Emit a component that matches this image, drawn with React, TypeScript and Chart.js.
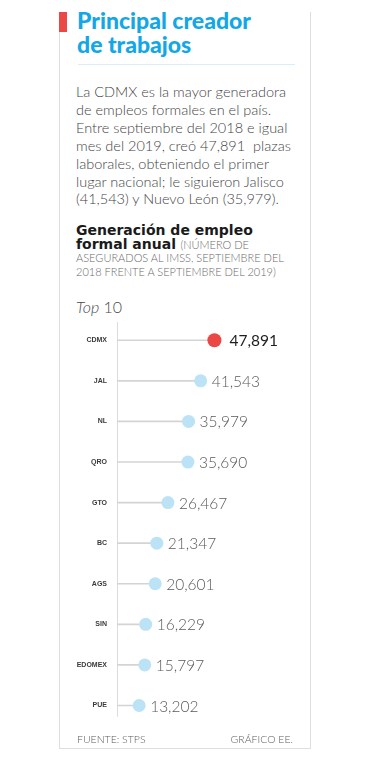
import React, { useEffect, useRef } from "react";
import { Chart, registerables } from "chart.js";

Chart.register(...registerables);

const categories = ["CDMX", "JAL", "NL", "QRO", "GTO", "BC", "AGS", "SIN", "EDOMEX", "PUE"];
const values = [47891, 41543, 35979, 35690, 26467, 21347, 20601, 16229, 15797, 13202];
const highlightCategory = "CDMX";

const RED = "#ea4745";
const BLUE = "#bce2f6";

const paragraphLines = [
  "La CDMX es la mayor generadora",
  "de empleos formales en el país.",
  "Entre septiembre del 2018 e igual",
  "mes del 2019, creó 47,891  plazas",
  "laborales, obteniendo el primer",
  "lugar nacional; le siguieron Jalisco",
  "(41,543) y Nuevo León (35,979).",
];

function LollipopChart() {
  const ref = useRef<HTMLCanvasElement | null>(null);
  useEffect(() => {
    if (!ref.current) return;
    const isHi = categories.map((c) => c === highlightCategory);
    const valueLabelPlugin = {
      id: "valueLabels",
      afterDatasetsDraw(chart: any) {
        const ctx = chart.ctx;
        const meta = chart.getDatasetMeta(0);
        ctx.save();
        ctx.textBaseline = "middle";
        ctx.textAlign = "left";
        meta.data.forEach((pt: any, i: number) => {
          const hi = isHi[i];
          ctx.font = hi ? "400 15.5px Lato" : "300 15.5px Lato";
          ctx.fillStyle = hi ? "#1e1e1e" : "#5a5a5a";
          ctx.fillText(values[i].toLocaleString("en-US"), pt.x + (hi ? 15 : 11), pt.y + 1);
        });
        ctx.restore();
      },
    };
    const axisLinePlugin = {
      id: "axisLine",
      beforeDatasetsDraw(chart: any) {
        const { ctx, chartArea } = chart;
        ctx.save();
        ctx.strokeStyle = "#dcdcdc";
        ctx.lineWidth = 1;
        ctx.beginPath();
        ctx.moveTo(Math.round(chartArea.left) + 0.5, chartArea.top + 2);
        ctx.lineTo(Math.round(chartArea.left) + 0.5, chartArea.bottom - 9);
        ctx.stroke();
        ctx.restore();
      },
    };
    const chart = new Chart(ref.current, {
      type: "bar",
      data: {
        labels: categories,
        datasets: [
          {
            type: "line",
            indexAxis: "y",
            data: values,
            showLine: false,
            pointRadius: isHi.map((h) => (h ? 7 : 6.5)),
            pointHoverRadius: isHi.map((h) => (h ? 7 : 6.5)),
            pointBackgroundColor: isHi.map((h) => (h ? RED : BLUE)),
            pointBorderWidth: 0,
            pointBorderColor: "rgba(0,0,0,0)",
            order: 0,
            clip: false,
          } as any,
          {
            type: "bar",
            indexAxis: "y",
            data: values,
            backgroundColor: "#d4d4d4",
            barThickness: 1,
            order: 1,
          } as any,
        ],
      },
      options: {
        indexAxis: "y",
        responsive: false,
        animation: false,
        events: [],
        layout: { padding: { top: 20, bottom: 8, left: 0, right: 0 } },
        plugins: { legend: { display: false }, tooltip: { enabled: false } },
        scales: {
          x: { type: "linear", min: 3000, max: 88700, display: false },
          y: {
            type: "category",
            grid: { display: false, drawTicks: false },
            border: { display: false },
            ticks: {
              padding: 10,
              color: "#3a3a3a",
              font: { family: "'Liberation Sans', Arial", size: 7, weight: "bold" },
            },
            afterFit: (s: any) => {
              s.width = 57;
            },
          },
        },
      } as any,
      plugins: [valueLabelPlugin, axisLinePlugin],
    });
    return () => chart.destroy();
  }, []);
  return (
    <canvas
      ref={ref}
      width={250}
      height={440}
      style={{ position: "absolute", left: 60, top: 300, width: 250, height: 440 }}
    />
  );
}

export default function App() {
  return (
    <div
      style={{
        position: "absolute",
        left: 0,
        top: 0,
        width: 377,
        height: 768,
        background: "#ffffff",
        overflow: "hidden",
      }}
    >
      {/* card border */}
      <div
        style={{
          position: "absolute",
          left: 59,
          top: 12,
          width: 250,
          height: 736,
          borderLeft: "1px solid #dedede",
          borderRight: "1px solid #dedede",
          borderBottom: "1px solid #dedede",
        }}
      />
      {/* red marker */}
      <div style={{ position: "absolute", left: 59, top: 12, width: 8, height: 20, background: RED }} />
      {/* title */}
      <div
        style={{
          position: "absolute",
          left: 77,
          top: 8,
          fontFamily: "Lato, sans-serif",
          fontWeight: 900,
          fontSize: 23,
          lineHeight: "24px",
          color: "#13a7e6",
          whiteSpace: "nowrap",
        }}
      >
        Principal creador
        <br />
        de trabajos
      </div>
      <div style={{ position: "absolute", left: 78, top: 64, width: 217, height: 1, background: "#d9eef8" }} />
      {/* paragraph */}
      <div
        style={{
          position: "absolute",
          left: 76,
          top: 83,
          fontFamily: "Lato, sans-serif",
          fontWeight: 300,
          fontSize: 14.5,
          lineHeight: "17.9px",
          color: "#444",
          whiteSpace: "pre",
        }}
      >
        {paragraphLines.join("\n")}
      </div>
      {/* chart heading */}
      <div
        style={{
          position: "absolute",
          left: 76,
          top: 224,
          width: 230,
          fontFamily: "'DejaVu Sans', sans-serif",
          fontSize: 14,
          lineHeight: "13.6px",
          color: "#1a1a1a",
          whiteSpace: "nowrap",
        }}
      >
        <div style={{ fontWeight: "bold" }}>Generación de empleo</div>
        <div>
          <span style={{ fontWeight: "bold" }}>formal anual</span>{" "}
          <span style={{ fontFamily: "Lato, sans-serif", fontWeight: 300, fontSize: 11, color: "#6a6a6a" }}>
            (NÚMERO DE
          </span>
        </div>
        <div style={{ fontFamily: "Lato, sans-serif", fontWeight: 300, fontSize: 11, color: "#6a6a6a", lineHeight: "14px" }}>
          ASEGURADOS AL IMSS, SEPTIEMBRE DEL
          <br />
          2018 FRENTE A SEPTIEMBRE DEL 2019)
        </div>
      </div>
      {/* Top 10 */}
      <div
        style={{
          position: "absolute",
          left: 76,
          top: 298,
          fontFamily: "Lato, sans-serif",
          fontWeight: 300,
          fontSize: 16,
          lineHeight: "18px",
          color: "#4a4a4a",
        }}
      >
        <i>Top</i> 10
      </div>
      <LollipopChart />
      {/* footer */}
      <div
        style={{
          position: "absolute",
          left: 77,
          top: 733,
          width: 216,
          display: "flex",
          justifyContent: "space-between",
          fontFamily: "Lato, sans-serif",
          fontWeight: 300,
          fontSize: 10.5,
          lineHeight: "12px",
          color: "#5a5a5a",
        }}
      >
        <span>FUENTE: STPS</span>
        <span>GRÁFICO EE.</span>
      </div>
    </div>
  );
}
